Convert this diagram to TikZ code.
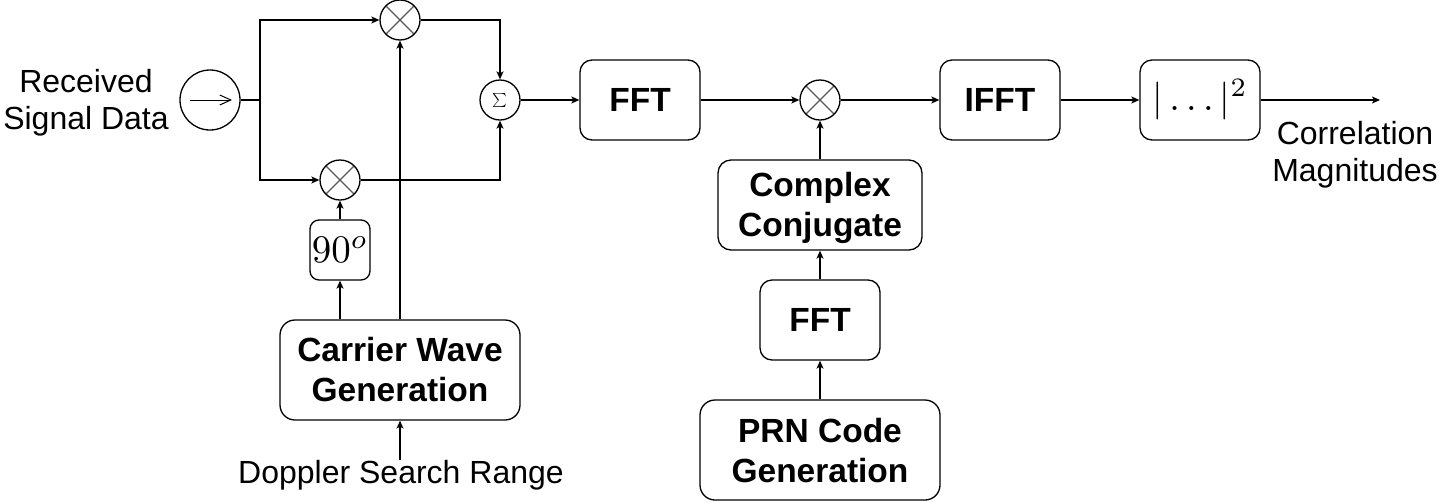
\documentclass[tikz,border=0pt]{standalone}
\usepackage{fontspec}
\usepackage{graphicx}
\setmainfont{Liberation Sans}
\usetikzlibrary{arrows.meta}
\definecolor{xcol}{HTML}{5A5A5A}
\newcommand\cl[1]{\smash{#1}\rule{0pt}{0.716em}}
\newcommand\bigmath[2]{{\fontsize{10}{12}\selectfont\scalebox{#1}{$#2$}}}
\begin{document}
\begin{tikzpicture}[x=1pt,y=-1pt,line width=1.3pt,
  arr/.style={-{Stealth[length=8pt,width=7pt,inset=2pt]}},
  box/.style={draw,rounded corners=#1,inner sep=0pt,align=center,
    font=\fontsize{33.5}{40}\selectfont\bfseries},
  box/.default=12pt,
  txt/.style={inner sep=0pt,align=center,font=\fontsize{32}{37}\selectfont},
  mult/.style={circle,draw,minimum size=40pt,inner sep=0pt,
    path picture={\draw[xcol,line width=1.2pt]
      (path picture bounding box.north west) -- (path picture bounding box.south east)
      (path picture bounding box.north east) -- (path picture bounding box.south west);}}]
\useasboundingbox (0,0) rectangle (1440,501);

% left part
\node[txt] (rsd) at (86,100) {\cl{Received}\\\cl{Signal Data}};
\node[circle,draw,minimum size=60pt,inner sep=0pt] (sig) at (210,100) {};
\draw[line width=1pt,-{Straight Barb[length=11pt,width=10pt]}]
  ([xshift=-20pt]sig.center) -- ([xshift=22pt]sig.center);
\coordinate (J) at (260,100);
\node[mult] (m1) at (400,20) {};
\node[mult] (m2) at (340,180) {};
\node[circle,draw,minimum size=40pt,inner sep=0pt] (sum) at (500,100)
  {\bigmath{1.4}{\sum}};
\node[box=9pt,minimum width=60pt,minimum height=60pt] (ninety) at (340,250)
  {\smash{\bigmath{3.9}{90^o}}\rule{0pt}{25pt}};
\node[box=15pt,minimum width=240pt,minimum height=100pt] (cwg) at (400,370)
  {\cl{Carrier Wave}\\\cl{Generation}};
\node[txt,anchor=base] (dop) at (401,483) {Doppler Search Range};
\coordinate (dsrc) at (400,460);

% main chain
\node[box,minimum width=120pt,minimum height=80pt] (fft1) at (640,100) {\cl{FFT}};
\node[mult] (m3) at (820,100) {};
\node[box,minimum width=120pt,minimum height=80pt] (ifft) at (1000,100) {\cl{IFFT}};
\node[box,minimum width=120pt,minimum height=80pt] (abs) at (1200,100)
  {\bigmath{3.8}{|\ldots|^2}};
\coordinate (out) at (1380,100);
\node[txt] (corr) at (1355,152) {\cl{Correlation}\\\cl{Magnitudes}};

% PRN branch
\node[box=13pt,minimum width=204pt,minimum height=90pt] (cc) at (820,205)
  {\cl{Complex}\\\cl{Conjugate}};
\node[box,minimum width=120pt,minimum height=80pt] (fft2) at (820,320) {\cl{FFT}};
\node[box=15pt,minimum width=240pt,minimum height=100pt] (prn) at (820,450)
  {\cl{PRN Code}\\\cl{Generation}};

% connectors
\draw (sig.east) -- (J);
\draw[arr] (J) |- (m1.west);
\draw[arr] (J) |- (m2.west);
\draw[arr] (m1.east) -| (sum.north);
\draw[arr] (m2.east) -| (sum.south);
\draw[arr] (sum.east) -- (fft1.west);
\draw[arr] (fft1.east) -- (m3.west);
\draw[arr] (m3.east) -- (ifft.west);
\draw[arr] (ifft.east) -- (abs.west);
\draw[arr] (abs.east) -- (out);
\draw[arr] (ninety.north) -- (m2.south);
\draw[arr] (cwg.north -| ninety.south) -- (ninety.south);
\draw[arr] (cwg.north) -- (m1.south);
\draw[arr] (dsrc) -- (cwg.south);
\draw[arr] (cc.north) -- (m3.south);
\draw[arr] (fft2.north) -- (cc.south);
\draw[arr] (prn.north) -- (fft2.south);
\end{tikzpicture}
\end{document}
